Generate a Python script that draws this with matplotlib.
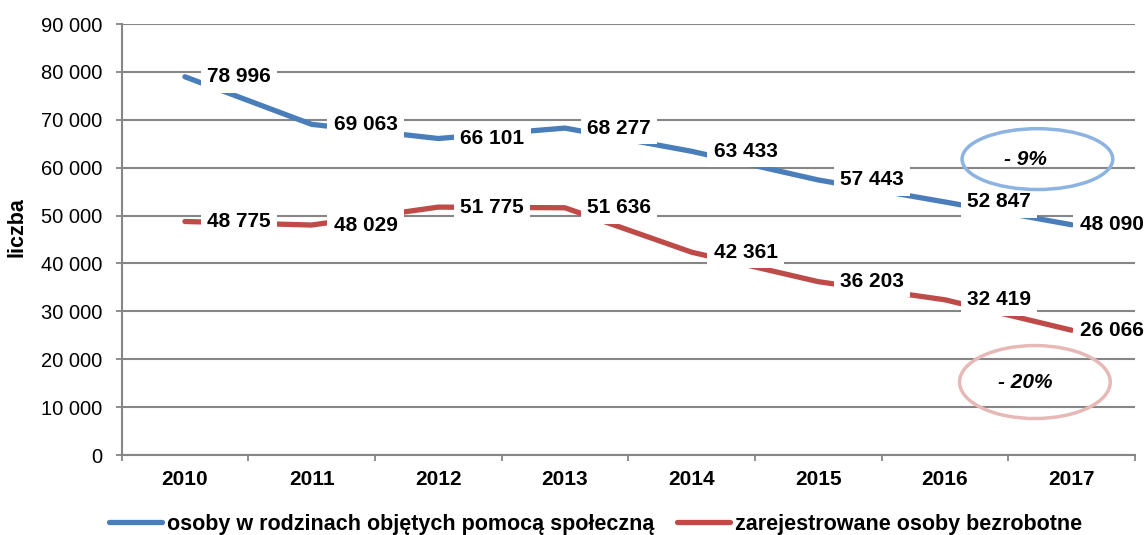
import matplotlib.pyplot as plt
from matplotlib.patches import Ellipse
from matplotlib.ticker import FuncFormatter

plt.rcParams['font.family'] = ['Liberation Sans', 'DejaVu Sans']

# data
years = ['2010', '2011', '2012', '2013', '2014', '2015', '2016', '2017']
pomoc = [78996, 69063, 66101, 68277, 63433, 57443, 52847, 48090]
bezrobotni = [48775, 48029, 51775, 51636, 42361, 36203, 32419, 26066]
label_pomoc = 'osoby w rodzinach objętych pomocą społeczną'
label_bezrob = 'zarejestrowane osoby bezrobotne'
change_pomoc = '- 9%'
change_bezrob = '- 20%'


def fmt(v):
    return f'{int(v):,}'.replace(',', ' ')


fig = plt.figure(figsize=(11.47, 5.35), dpi=100)
ax = fig.add_axes([0.106, 0.1495, 0.8835, 0.8055])

x = list(range(len(years)))
blue = '#4a7ebb'
red = '#be4b48'
ax.plot(x, pomoc, color=blue, lw=3.8, label=label_pomoc, zorder=3, solid_capstyle='round')
ax.plot(x, bezrobotni, color=red, lw=3.8, label=label_bezrob, zorder=3, solid_capstyle='round')

for series in [pomoc, bezrobotni]:
    for xi, v in zip(x, series):
        # last label sits closer to the point so it fits in the figure
        dx = 8 if xi == len(years) - 1 else 22
        ax.annotate(fmt(v), (xi, v), xytext=(dx, 0), textcoords='offset pixels',
                    ha='left', va='center', fontsize=15, fontweight='bold',
                    bbox=dict(boxstyle='square,pad=0.3', fc='white', ec='none'),
                    zorder=4)

# ellipses with percentage change
ax.add_patch(Ellipse((6.73, 61800), 1.19, 12700, fill=False, ec='#8db3e2', lw=2.5, zorder=5))
ax.text(6.635, 61800, change_pomoc, ha='center', va='center', fontsize=15,
        fontweight='bold', style='italic', zorder=6)
ax.add_patch(Ellipse((6.71, 15240), 1.19, 15240, fill=False, ec='#e6b9b8', lw=2.5, zorder=5))
ax.text(6.635, 15240, change_bezrob, ha='center', va='center', fontsize=15,
        fontweight='bold', style='italic', zorder=6)

ax.set_xlim(-0.5, 7.5)
ax.set_ylim(0, 90000)
ax.set_yticks(range(0, 90001, 10000))
ax.yaxis.set_major_formatter(FuncFormatter(lambda v, p: fmt(v)))
ax.set_xticks(x)
ax.set_xticklabels(years, fontsize=15, fontweight='bold')
ax.set_xticks([i - 0.5 for i in range(len(years) + 1)], minor=True)
ax.tick_params(axis='x', which='major', length=0, pad=11)
ax.tick_params(axis='x', which='minor', length=4, color='#868686', width=1.3)
ax.tick_params(axis='y', labelsize=14.5, length=4, color='#868686', width=1.3, pad=10)
ax.grid(axis='y', color='#868686', lw=1.5)
ax.set_axisbelow(True)
for s in ['top', 'right']:
    ax.spines[s].set_visible(False)
for s in ['left', 'bottom']:
    ax.spines[s].set_color('#868686')
    ax.spines[s].set_linewidth(1.5)

ax.set_ylabel('liczba', fontsize=15.5, fontweight='bold')
ax.yaxis.set_label_coords(-0.093, 0.529)

fig.legend(loc='lower center', bbox_to_anchor=(0.519, -0.036), ncol=2, frameon=False,
           prop=dict(size=15.5, weight='bold'), handlelength=2.46, handletextpad=0.23,
           columnspacing=1.07)

fig.savefig('out.png', dpi=100)
